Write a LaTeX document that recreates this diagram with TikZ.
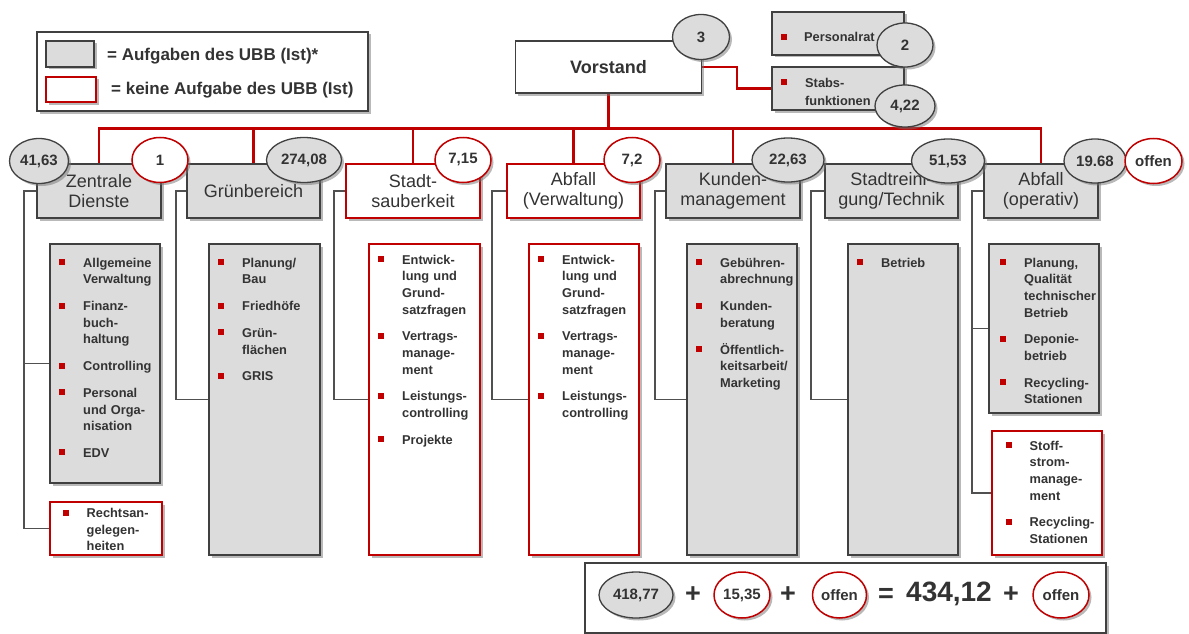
\documentclass[tikz,border=0pt]{standalone}
\usepackage{fontspec}
\setmainfont{Liberation Sans}
\usetikzlibrary{shadows,shapes.geometric,calc}
\definecolor{ubbred}{HTML}{C00000}
\definecolor{boxgray}{HTML}{DCDCDC}
\definecolor{boxedge}{HTML}{404040}
\definecolor{linegray}{HTML}{505050}
\definecolor{txt}{HTML}{333333}
\pgfdeclarelayer{background}
\pgfsetlayers{background,main}

% red square bullet and a list entry with hanging indent
\newcommand{\sq}{\textcolor{ubbred}{\rule[2pt]{6pt}{6pt}}}
\newcommand{\itm}[1]{\noindent\hangindent=24pt\hangafter=1\strut\makebox[24pt][l]{\sq}#1\par\vspace{10.2pt}}

\tikzset{
  shad/.style={drop shadow={shadow xshift=2.5pt,shadow yshift=-2.5pt,opacity=.5,fill=black!55}},
  box/.style={rectangle,inner sep=0pt,shad},
  graybox/.style={box,draw=boxedge,line width=1.3pt,fill=boxgray},
  redbox/.style={box,draw=ubbred,line width=1.6pt,fill=white},
  whitebox/.style={box,draw=boxedge,line width=1.3pt,fill=white},
  headtext/.style={align=center,text=txt,font=\fontsize{18}{20}\selectfont},
  numoval/.style={ellipse,inner sep=0pt,minimum height=44pt,text=txt,font=\bfseries\fontsize{15}{15}\selectfont,shad},
  grayoval/.style={numoval,draw=boxedge,line width=1.3pt,fill=boxgray},
  redoval/.style={numoval,draw=ubbred,line width=1.5pt,fill=white},
  listtext/.style={anchor=north west,inner sep=0pt,text=txt,text width=100pt,font=\bfseries\fontsize{12.8}{16.6}\selectfont},
  legtext/.style={anchor=west,inner sep=0pt,text=txt,font=\bfseries\fontsize{17}{17}\selectfont},
  opsign/.style={inner sep=0pt,text=txt,font=\bfseries\fontsize{27}{27}\selectfont},
  busline/.style={draw=ubbred,line width=2.4pt},
  branch/.style={draw=linegray,line width=1.3pt},
}

\begin{document}
\begin{tikzpicture}[x=1pt,y=-1pt]
\useasboundingbox (0,0) rectangle (1189,634);

% legend
\node[whitebox,minimum width=331pt,minimum height=79pt] (legend) at (202.5,71.5) {};
\node[graybox,minimum width=48pt,minimum height=26pt] (lgGray) at (70,54) {};
\node[redbox,minimum width=50pt,minimum height=25pt] (lgRed) at (71,89.5) {};
\node[legtext] (lgGrayT) at (107,56) {= Aufgaben des UBB (Ist)*};
\node[legtext] (lgRedT) at (111,90) {= keine Aufgabe des UBB (Ist)};

% board and staff units
\node[whitebox,minimum width=186pt,minimum height=52pt,text=txt,font=\bfseries\fontsize{18}{18}\selectfont] (vorstand) at (608.5,67) {Vorstand};
\node[graybox,minimum width=132pt,minimum height=43pt] (pr) at (838,33.5) {};
\node[anchor=base west,inner sep=0pt,text=txt,font=\bfseries\fontsize{12.8}{16}\selectfont] (prT) at (781,41.7) {\makebox[23pt][l]{\sq}Personalrat};
\node[graybox,minimum width=132pt,minimum height=43pt] (stab) at (838,88.5) {};
\node[listtext,font=\bfseries\fontsize{12.8}{18}\selectfont] (stabT) at (781,74.4) {\itm{Stabs-\newline funktionen}};
\node[grayoval,minimum width=57pt,minimum height=45pt] (oV) at (701,37) {3};
\node[grayoval,minimum width=56pt] (oPr) at (905,45) {2};
\node[grayoval,minimum width=60pt,minimum height=42pt] (oStab) at (905,106) {4,22};

% departments
\node[graybox,headtext,minimum width=124pt,minimum height=54pt] (zd) at (99,191) {Zentrale\\Dienste};
\node[graybox,headtext,minimum width=133pt,minimum height=54pt] (gb) at (253.5,191) {Grünbereich};
\node[redbox,headtext,minimum width=134pt,minimum height=54pt] (ss) at (413,191) {Stadt-\\sauberkeit};
\node[redbox,headtext,minimum width=133pt,minimum height=54pt] (av) at (573.5,191) {Abfall\\(Verwaltung)};
\node[graybox,headtext,minimum width=134pt,minimum height=54pt] (km) at (733,191) {Kunden-\\management};
\node[graybox,headtext,minimum width=133pt,minimum height=54pt] (sr) at (891.5,191) {Stadtreini-\\gung/Technik};
\node[graybox,headtext,minimum width=114pt,minimum height=54pt] (ao) at (1041,191) {Abfall\\(operativ)};

% task lists
\node[graybox,minimum width=110pt,minimum height=239pt] (zdB) at (105,363.5) {};
\node[listtext] (zdL) at (59,255.4) {\itm{Allgemeine\newline Verwaltung}\itm{Finanz-\newline buch-\newline haltung}\itm{Controlling}\itm{Personal\newline und Orga-\newline nisation}\itm{EDV}};
\node[redbox,minimum width=112pt,minimum height=53pt] (zdR) at (106,528.5) {};
\node[listtext] (zdRL) at (62.5,505.7) {\itm{Rechtsan-\newline gelegen-\newline heiten}};

\node[graybox,minimum width=111pt,minimum height=311pt] (gbB) at (264.5,399.5) {};
\node[listtext] (gbL) at (218,255.4) {\itm{Planung/\newline Bau}\itm{Friedhöfe}\itm{Grün-\newline flächen}\itm{GRIS}};

\node[redbox,minimum width=111pt,minimum height=311pt] (ssB) at (424.5,399.5) {};
\node[listtext] (ssL) at (378,252.4) {\itm{Entwick-\newline lung und\newline Grund-\newline satzfragen}\itm{Vertrags-\newline manage-\newline ment}\itm{Leistungs-\newline controlling}\itm{Projekte}};

\node[redbox,minimum width=110pt,minimum height=311pt] (avB) at (584,399.5) {};
\node[listtext] (avL) at (538,252.4) {\itm{Entwick-\newline lung und\newline Grund-\newline satzfragen}\itm{Vertrags-\newline manage-\newline ment}\itm{Leistungs-\newline controlling}};

\node[graybox,minimum width=110pt,minimum height=311pt] (kmB) at (742,399.5) {};
\node[listtext] (kmL) at (696,255.4) {\itm{Gebühren-\newline abrechnung}\itm{Kunden-\newline beratung}\itm{Öffentlich-\newline keitsarbeit/\newline Marketing}};

\node[graybox,minimum width=110pt,minimum height=311pt] (srB) at (903,399.5) {};
\node[listtext] (srL) at (857,255.4) {\itm{Betrieb}};

\node[graybox,minimum width=110pt,minimum height=169pt] (aoB) at (1044,328.5) {};
\node[listtext] (aoL) at (1000,255.4) {\itm{Planung,\newline Qualität\newline technischer\newline Betrieb}\itm{Deponie-\newline betrieb}\itm{Recycling-\newline Stationen}};
\node[redbox,minimum width=110pt,minimum height=124pt] (aoR) at (1047,493) {};
\node[listtext] (aoRL) at (1005.5,438.4) {\itm{Stoff-\newline strom-\newline manage-\newline ment}\itm{Recycling-\newline Stationen}};

% staff numbers
\node[grayoval,minimum width=59pt,minimum height=45pt] (oZd) at (39,161) {41,63};
\node[redoval,minimum width=56pt,minimum height=45pt] (oZd2) at (160,160) {1};
\node[grayoval,minimum width=75pt,minimum height=45pt] (oGb) at (304,160) {274,08};
\node[redoval,minimum width=56pt,minimum height=45pt] (oSs) at (463,160) {7,15};
\node[redoval,minimum width=56pt,minimum height=45pt] (oAv) at (632,160) {7,2};
\node[grayoval,minimum width=72pt,minimum height=44pt] (oKm) at (788,160) {22,63};
\node[grayoval,minimum width=73pt,minimum height=44pt] (oSr) at (948,161) {51,53};
\node[grayoval,minimum width=62pt,minimum height=44pt] (oAo) at (1095,161) {19.68};
\node[redoval,minimum width=57pt,minimum height=45pt] (oAo2) at (1153.5,161) {offen};

% total
\node[whitebox,minimum width=521pt,minimum height=70pt] (eqbox) at (845.5,598) {};
\node[grayoval,minimum width=74pt,minimum height=46pt] (eqA) at (636,595) {418,77};
\node[opsign] (plus1) at (693,595) {+};
\node[redoval,minimum width=56pt,minimum height=46pt] (eqB) at (742,595) {15,35};
\node[opsign] (plus2) at (788,595) {+};
\node[redoval,minimum width=54pt,minimum height=46pt] (eqC) at (839.5,595) {offen};
\node[opsign] (equal) at (886,595) {=};
\node[opsign,font=\bfseries\fontsize{28}{28}\selectfont] (sum) at (949,594) {434,12};
\node[opsign] (plus3) at (1011,595) {+};
\node[redoval,minimum width=56pt,minimum height=46pt] (eqD) at (1061,595) {offen};

% connectors
\begin{pgfonlayer}{background}
  \coordinate (busy) at (0,128.5);
  \draw[busline] (vorstand.south) -- (vorstand.south |- busy);
  \draw[busline] (zd.north) -- (zd.north |- busy) -- (ao.north |- busy) -- (ao.north);
  \foreach \n in {gb,ss,av,km} \draw[busline] (\n.north) -- (\n.north |- busy);
  \draw[busline] (vorstand.east) -- ++(35,0) |- (stab.west);

  \coordinate (zdx) at (24,0);
  \coordinate (gbx) at (176,0);
  \coordinate (ssx) at (334,0);
  \coordinate (avx) at (492,0);
  \coordinate (kmx) at (655,0);
  \coordinate (srx) at (811,0);
  \coordinate (aox) at (972,0);
  \draw[branch] (zd.west) -| (zdx |- zdR.west) -- (zdR.west);
  \draw[branch] (zdx |- zdB.west) -- (zdB.west);
  \draw[branch] (gb.west) -| (gbx |- gbB.west) -- (gbB.west);
  \draw[branch] (ss.west) -| (ssx |- ssB.west) -- (ssB.west);
  \draw[branch] (av.west) -| (avx |- avB.west) -- (avB.west);
  \draw[branch] (km.west) -| (kmx |- kmB.west) -- (kmB.west);
  \draw[branch] (sr.west) -| (srx |- srB.west) -- (srB.west);
  \draw[branch] (ao.west) -| (aox |- aoR.west) -- (aoR.west);
  \draw[branch] (aox |- aoB.west) -- (aoB.west);
\end{pgfonlayer}
\end{tikzpicture}
\end{document}
